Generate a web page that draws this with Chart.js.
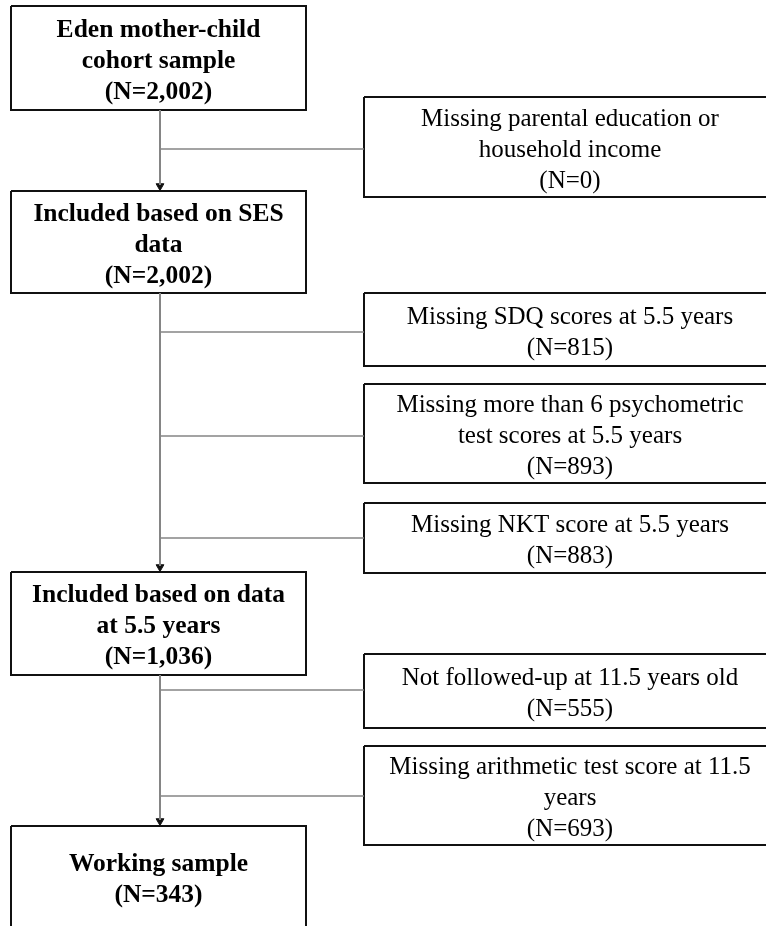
<!DOCTYPE html>
<html>
<head>
<meta charset="utf-8">
<script src="https://cdn.jsdelivr.net/npm/chart.js@4.4.1/dist/chart.umd.min.js"></script>
<style>
  html, body { margin: 0; padding: 0; background: #ffffff; }
  #wrap { width: 766px; height: 926px; }
</style>
</head>
<body>
<div id="wrap"><canvas id="c" width="766" height="926"></canvas></div>
<script>
// ---- Content (text and counts) ----
const stageLabels = [
  ["Eden mother-child", "cohort sample"],
  ["Included based on SES", "data"],
  ["Included based on data", "at 5.5 years"],
  ["Working sample"]
];
const stageCounts = ["2,002", "2,002", "1,036", "343"];

const exclusionLabels = [
  ["Missing parental education or", "household income"],
  ["Missing SDQ scores at 5.5 years"],
  ["Missing more than 6 psychometric", "test scores at 5.5 years"],
  ["Missing NKT score at 5.5 years"],
  ["Not followed-up at 11.5 years old"],
  ["Missing arithmetic test score at 11.5", "years"]
];
const exclusionCounts = ["0", "815", "893", "883", "555", "693"];

// ---- Layout (positions in the drawing's own units) ----
const stageBoxX = [11, 306];
const stageBoxY = [[6, 110], [191, 293], [572, 675], [826, 928]];
const trunkX = 160;
const exclBoxX = [364, 778];
const exclBoxY = [[97, 197], [293, 366], [384, 483], [503, 573], [654, 728], [746, 845]];
const exclJoinY = [149, 332, 436, 538, 690, 796];

// ---- Build datasets ----
const datasets = [];
function rect(x0, x1, y0, y1) {
  return [{x:x0,y:y0},{x:x1,y:y0},{x:x1,y:y1},{x:x0,y:y1},{x:x0,y:y0}];
}
for (let i = 0; i < stageBoxY.length - 1; i++) {
  datasets.push({
    data: [{x:trunkX, y:stageBoxY[i][1]}, {x:trunkX, y:stageBoxY[i+1][0] - 6}],
    showLine: true, borderColor: '#858585', borderWidth: 2, pointRadius: 0
  });
}
exclJoinY.forEach((y) => {
  datasets.push({
    data: [{x:trunkX, y:y}, {x:exclBoxX[0], y:y}],
    showLine: true, borderColor: '#858585', borderWidth: 1.5, pointRadius: 0
  });
});
datasets.push({
  data: stageBoxY.slice(1).map(b => ({x: trunkX, y: b[0] - 5})),
  showLine: false, pointStyle: 'triangle', rotation: 180, pointRadius: 4.5,
  backgroundColor: '#111111', borderColor: '#111111', borderWidth: 1
});
stageBoxY.forEach(b => {
  datasets.push({
    data: rect(stageBoxX[0], stageBoxX[1], b[0], b[1]),
    showLine: true, borderColor: '#111111', borderWidth: 2, pointRadius: 0,
    borderJoinStyle: 'miter', fill: false
  });
});
exclBoxY.forEach(b => {
  datasets.push({
    data: rect(exclBoxX[0], exclBoxX[1], b[0], b[1]),
    showLine: true, borderColor: '#111111', borderWidth: 2, pointRadius: 0,
    borderJoinStyle: 'miter', fill: false
  });
});

// ---- Text plugin ----
const textPlugin = {
  id: 'boxText',
  afterDatasetsDraw(chart) {
    const ctx = chart.ctx;
    const xs = chart.scales.x, ys = chart.scales.y;
    const lineH = 31;
    function drawLines(lines, cx, y0, y1, font) {
      const px = xs.getPixelForValue(cx);
      const mid = (ys.getPixelForValue(y0) + ys.getPixelForValue(y1)) / 2 + 3;
      const start = mid - (lines.length - 1) * lineH / 2;
      ctx.save();
      ctx.font = font;
      ctx.fillStyle = '#000000';
      ctx.textAlign = 'center';
      ctx.textBaseline = 'middle';
      lines.forEach((t, k) => ctx.fillText(t, px, start + k * lineH));
      ctx.restore();
    }
    stageLabels.forEach((lab, i) => {
      drawLines(lab.concat(['(N=' + stageCounts[i] + ')']),
        (stageBoxX[0] + stageBoxX[1]) / 2, stageBoxY[i][0], stageBoxY[i][1],
        'bold 25.5px "Liberation Serif", "Times New Roman", serif');
    });
    exclusionLabels.forEach((lab, i) => {
      drawLines(lab.concat(['(N=' + exclusionCounts[i] + ')']),
        570, exclBoxY[i][0], exclBoxY[i][1],
        '25px "Liberation Serif", "Times New Roman", serif');
    });
  }
};

new Chart(document.getElementById('c'), {
  type: 'scatter',
  data: { datasets },
  options: {
    responsive: false,
    animation: false,
    layout: { padding: 0, autoPadding: false },
    plugins: { legend: { display: false }, tooltip: { enabled: false } },
    scales: {
      x: { type: 'linear', min: 0, max: 766, display: false },
      y: { type: 'linear', min: 0, max: 926, reverse: true, display: false }
    }
  },
  plugins: [textPlugin]
});
</script>
</body>
</html>
